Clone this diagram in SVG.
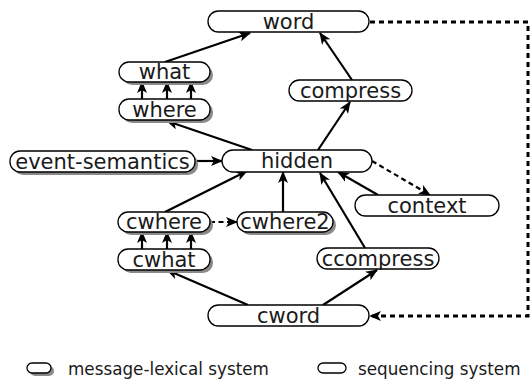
<svg xmlns="http://www.w3.org/2000/svg" width="531" height="382" viewBox="0 0 531 382">
<defs>
<marker id="ah" viewBox="0 0 12 10" refX="11" refY="5" markerWidth="12" markerHeight="10" markerUnits="userSpaceOnUse" orient="auto">
<path d="M0,0 L12,5 L0,10 L3,5 Z" fill="#000"/>
</marker>
</defs>
<style>
.box{fill:#fff;stroke:#000;stroke-width:1.3}
.sh{fill:#8a8a8a}
.t{font-family:"DejaVu Sans",Verdana,sans-serif;font-size:21px;fill:#1a1a1a;text-anchor:middle}
.lg{font-family:"DejaVu Sans",Verdana,sans-serif;font-size:16.8px;fill:#1a1a1a}
.e{stroke:#000;stroke-width:2.2;fill:none;marker-end:url(#ah)}
.d{stroke:#000;stroke-width:2.2;fill:none;stroke-dasharray:5 3.5;marker-end:url(#ah)}
.dt{stroke:#000;stroke-width:3;fill:none;stroke-dasharray:5 4;marker-end:url(#ah)}
</style>
<rect width="531" height="382" fill="#fff"/>
<g id="connectors">
<line class="e" x1="165" y1="62" x2="250" y2="33"/>
<line class="e" x1="352" y1="80" x2="320" y2="33"/>
<line class="e" x1="318" y1="150" x2="350" y2="102"/>
<line class="e" x1="252" y1="150" x2="167" y2="121"/>
<line class="e" x1="142" y1="99" x2="142" y2="82"/>
<line class="e" x1="167" y1="99" x2="167" y2="82"/>
<line class="e" x1="191" y1="99" x2="191" y2="82"/>
<line class="e" x1="195" y1="161" x2="222" y2="161"/>
<line class="d" x1="372" y1="161" x2="430" y2="195"/>
<line class="e" x1="378" y1="195" x2="338" y2="172"/>
<line class="e" x1="365" y1="248" x2="320" y2="173"/>
<line class="e" x1="283" y1="212" x2="283" y2="172"/>
<line class="e" x1="165" y1="212" x2="247" y2="171"/>
<line class="d" x1="210" y1="222" x2="237" y2="222"/>
<line class="e" x1="142" y1="249" x2="142" y2="232"/>
<line class="e" x1="167" y1="249" x2="167" y2="232"/>
<line class="e" x1="191" y1="249" x2="191" y2="232"/>
<line class="e" x1="248" y1="305" x2="167" y2="270"/>
<line class="e" x1="323" y1="305" x2="377" y2="270"/>
<polyline class="dt" points="370,22 528,22 528,316 370,316"/>
</g>
<g id="word"><rect class="box" x="208" y="11" width="161" height="21" rx="10.5"/><text class="t" x="288.5" y="29">word</text></g>
<g id="what"><rect class="sh" x="122" y="65" width="91" height="20" rx="10"/><rect class="box" x="119" y="62" width="91" height="20" rx="10"/><text class="t" x="164.5" y="79">what</text></g>
<g id="where"><rect class="sh" x="122" y="102" width="91" height="21" rx="10"/><rect class="box" x="119" y="99" width="91" height="21" rx="10"/><text class="t" x="164.5" y="117">where</text></g>
<g id="compress"><rect class="box" x="289" y="80" width="123" height="21" rx="10.5"/><text class="t" x="350.5" y="98">compress</text></g>
<g id="event-semantics"><rect class="sh" x="13" y="154" width="185" height="21" rx="10"/><rect class="box" x="10" y="151" width="185" height="21" rx="10"/><text class="t" x="102.5" y="169">event-semantics</text></g>
<g id="hidden"><rect class="box" x="222" y="150" width="150" height="22" rx="11"/><text class="t" x="297" y="168">hidden</text></g>
<g id="context"><rect class="box" x="355" y="195" width="144" height="21" rx="10.5"/><text class="t" x="427" y="213">context</text></g>
<g id="cwhere"><rect class="sh" x="121" y="215" width="92" height="20" rx="10"/><rect class="box" x="118" y="212" width="92" height="20" rx="10"/><text class="t" x="164" y="229">cwhere</text></g>
<g id="cwhere2"><rect class="sh" x="240" y="215" width="96" height="20" rx="10"/><rect class="box" x="237" y="212" width="96" height="20" rx="10"/><text class="t" x="285" y="229">cwhere2</text></g>
<g id="cwhat"><rect class="sh" x="121" y="252" width="92" height="21" rx="10"/><rect class="box" x="118" y="249" width="92" height="21" rx="10"/><text class="t" x="164" y="267">cwhat</text></g>
<g id="ccompress"><rect class="box" x="317" y="248" width="122" height="21" rx="10.5"/><text class="t" x="378" y="266">ccompress</text></g>
<g id="cword"><rect class="box" x="208" y="305" width="161" height="21" rx="10.5"/><text class="t" x="288.5" y="323">cword</text></g>
<g id="legend">
<rect class="sh" x="30" y="366" width="24" height="10" rx="5"/>
<rect class="box" x="27" y="363" width="24" height="10" rx="5"/>
<text class="lg" x="68" y="375">message-lexical system</text>
<rect class="box" x="318" y="363" width="28" height="10" rx="5"/>
<text class="lg" x="358" y="375">sequencing system</text>
</g>
</svg>
